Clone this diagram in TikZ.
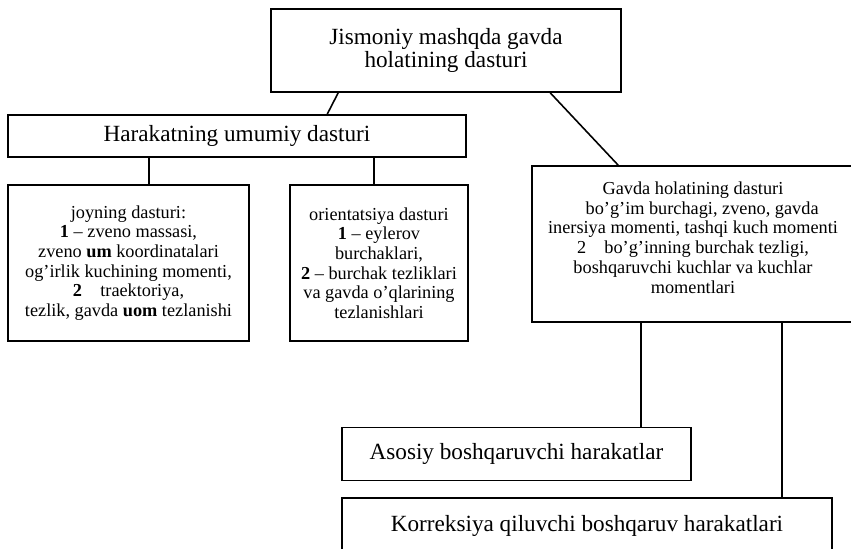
\documentclass[tikz,border=0pt]{standalone}
\usepackage{fontspec}
\setmainfont{Liberation Serif}
\usepackage{tikz}
\usetikzlibrary{positioning, calc}

\begin{document}
\begin{tikzpicture}[
  blok/.style={draw, line width=0.9pt, inner sep=0pt, align=center},
  katta/.style={font=\fontsize{13.2}{13}\selectfont},
  kichik/.style={font=\fontsize{10.4}{11.2}\selectfont}
]
  \useasboundingbox (0,0) rectangle (17.02,10.96);
  \clip (0,0) rectangle (17.02,10.96);

  % Yuqori blok
  \node[blok, katta, minimum width=7cm, minimum height=1.66cm] (dastur) at (8.92,9.95)
    {Jismoniy mashqda gavda\\holatining dasturi};

  % Umumiy dastur va uning qismlari
  \node[blok, katta, minimum width=9.16cm, minimum height=0.84cm] (umumiy) at (4.74,8.24)
    {Harakatning umumiy dasturi};
  \node[blok, kichik, minimum width=4.82cm, minimum height=3.12cm] (joy) at (2.57,5.70)
    {joyning dasturi:\\
     \textbf{1} -- zveno massasi,\\
     zveno \textbf{um} koordinatalari\\
     og'irlik kuchining momenti,\\
     \textbf{2}\quad traektoriya,\\
     tezlik, gavda \textbf{uom} tezlanishi};
  \node[blok, kichik, minimum width=3.56cm, minimum height=3.12cm] (orient) at (7.58,5.70)
    {orientatsiya dasturi\\
     \textbf{1} -- eylerov\\
     burchaklari,\\
     \textbf{2} -- burchak tezliklari\\
     va gavda o'qlarining\\
     tezlanishlari};

  % Gavda holati
  \node[blok, kichik, minimum width=6.44cm, minimum height=3.12cm] (gavda) at (13.86,6.08)
    {Gavda holatining dasturi\\
     \quad bo'g'im burchagi, zveno, gavda\\
     inersiya momenti, tashqi kuch momenti\\
     2\quad bo'g'inning burchak tezligi,\\
     boshqaruvchi kuchlar va kuchlar\\
     momentlari\\[-3.8pt]\mbox{}};

  % Boshqaruv harakatlari
  \node[blok, katta, minimum width=6.98cm, minimum height=1.06cm] (asosiy) at (10.33,1.88)
    {Asosiy boshqaruvchi harakatlar};
  \node[blok, katta, minimum width=9.8cm, minimum height=1.12cm] (korrek) at (11.74,0.44)
    {Korreksiya qiluvchi boshqaruv harakatlari};

  % Chiziqlar
  \draw[line width=0.9pt] ($(dastur.south west)+(1.36,0)$) -- ($(umumiy.north west)+(6.4,0)$);
  \draw[line width=0.9pt] ($(dastur.south west)+(5.6,0)$) -- ($(gavda.north west)+(1.74,0)$);
  \draw[line width=0.9pt] (joy.north) ++(0.41,0) coordinate (j1) -- (j1 |- umumiy.south);
  \draw[line width=0.9pt] (orient.north) ++(-0.1,0) coordinate (o1) -- (o1 |- umumiy.south);
  \draw[line width=0.9pt] (asosiy.north) ++(2.49,0) coordinate (a1) -- (a1 |- gavda.south);
  \draw[line width=0.9pt] (korrek.north) ++(3.9,0) coordinate (k1) -- (k1 |- gavda.south);
\end{tikzpicture}
\end{document}
